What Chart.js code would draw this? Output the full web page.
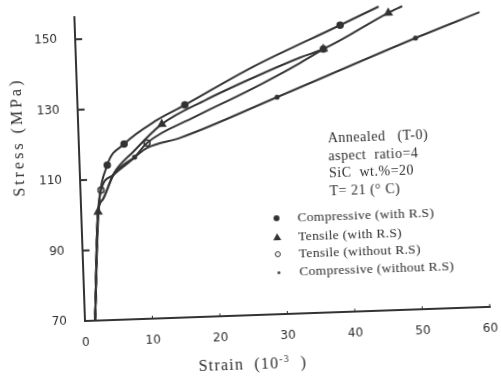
<!DOCTYPE html>
<html>
<head>
<meta charset="utf-8">
<script src="https://cdn.jsdelivr.net/npm/chart.js@4"></script>
<style>
  html, body { margin: 0; padding: 0; background: #fff; overflow: hidden; }
  /* the scanned figure sits about 2 degrees off square */
  #wrap { position: relative; width: 501px; height: 376px; background: #fff; transform: rotate(-2deg); transform-origin: 85px 321px; }
  #chart { position: absolute; left: 0; top: 0; }
  .txt { position: absolute; font-family: "Liberation Serif", serif; color: #2e2e2e; white-space: pre; }
  .note { font-size: 14px; letter-spacing: 0.5px; line-height: 17.7px; }
  .leg { font-size: 13.5px; letter-spacing: 0.3px; line-height: 16px; }
  .mk { position: absolute; }
</style>
</head>
<body>
<div id="wrap">
  <canvas id="chart" width="501" height="376"></canvas>
  <div class="txt" style="font-size:16px;letter-spacing:3px;left:-41px;top:125px;transform:rotate(-90deg);width:130px;text-align:center;line-height:20px;">Stress (MPa)</div>
  <div class="txt" style="font-size:16px;letter-spacing:1.2px;left:197px;top:356px;line-height:20px;">Strain  (10<sup style="font-size:10px">-3</sup>  )</div>
  <div class="txt note" style="left:334px;top:138px;">Annealed   (T-0)
aspect  ratio=4
SiC  wt.%=20
T= 21 (° C)</div>
  <div class="txt leg" style="left:301px;top:217px;">Compressive (with R.S)</div>
  <div class="txt leg" style="left:301px;top:236px;">Tensile (with R.S)</div>
  <div class="txt leg" style="left:301px;top:253px;">Tensile (without R.S)</div>
  <div class="txt leg" style="left:301px;top:271px;">Compressive (without R.S)</div>
  <div class="mk" style="left:277px;top:222px;width:6px;height:6px;border-radius:50%;background:#333;"></div>
  <div class="mk" style="left:276px;top:240px;width:0;height:0;border-left:4px solid transparent;border-right:4px solid transparent;border-bottom:7px solid #333;"></div>
  <div class="mk" style="left:277px;top:258px;width:4px;height:4px;border-radius:50%;border:1.5px solid #333;"></div>
  <div class="mk" style="left:279px;top:278px;width:3px;height:3px;border-radius:50%;background:#444;"></div>
</div>
<script>
const xTicks = [0, 10, 20, 30, 40, 50, 60];
const yTicks = [70, 90, 110, 130, 150];

// [strain (10^-3), stress (MPa)]
const compWithRS = [[1.5, 70], [2.6, 101.5], [4.1, 114.0], [6.7, 119.8], [11.7, 126.3], [15.9, 130.3], [25.8, 140.1], [39.3, 151.4], [45.1, 156.3]];
const compWithRSMarks = [[4.1, 114.0], [6.7, 119.8], [15.9, 130.3], [39.3, 151.4]];

const tensWithRS = [[1.5, 70], [2.5, 100.8], [3.3, 104.4], [5.0, 111.5], [8.0, 117.5], [12.4, 125.1], [19.0, 131.5], [25.7, 137.0], [33.2, 142.6], [36.7, 144.8], [46.5, 154.4], [48.6, 156.2]];
const tensWithRSMarks = [[2.5, 100.8], [12.4, 125.1], [36.7, 144.8], [46.5, 154.4]];

const tensNoRS = [[1.5, 70], [2.5, 100.8], [3.05, 107.0], [5.0, 111.2], [8.2, 116.0], [10.1, 119.9], [17.3, 126.8], [25.6, 133.9], [33.2, 141.1], [36.7, 144.8]];
const tensNoRSMarks = [[3.05, 107.0], [10.1, 119.9], [36.7, 144.8]];

const compNoRS = [[1.5, 70], [2.5, 100.8], [3.3, 104.4], [5.0, 111.2], [8.2, 116.0], [10.1, 118.5], [15.0, 121.0], [29.6, 131.6], [50.4, 147.0], [60.0, 153.7]];
const compNoRSMarks = [[8.2, 116.0], [29.6, 131.6], [50.4, 147.0]];

const ink = '#333333';
const pts = arr => arr.map(([x, y]) => ({ x, y }));

function lineSet(arr) {
  return {
    data: pts(arr),
    showLine: true,
    borderColor: ink,
    borderWidth: 2,
    pointRadius: 0,
    cubicInterpolationMode: 'monotone',
    clip: false,
  };
}

function markSet(arr, style, radius, fill) {
  return {
    data: pts(arr),
    showLine: false,
    pointStyle: style,
    pointRadius: radius,
    backgroundColor: fill,
    borderColor: ink,
    borderWidth: 1.5,
    clip: false,
  };
}

// tick marks point inward on this figure
const innerTicks = {
  id: 'innerTicks',
  afterDraw(chart) {
    const { ctx, chartArea: a, scales: { x, y } } = chart;
    ctx.save();
    ctx.strokeStyle = ink;
    ctx.lineWidth = 2;
    yTicks.slice(1).forEach(v => {
      const py = y.getPixelForValue(v);
      ctx.beginPath();
      ctx.moveTo(a.left, py);
      ctx.lineTo(a.left + 7, py);
      ctx.stroke();
    });
    ctx.lineWidth = 1;
    xTicks.slice(1).forEach(v => {
      const px = x.getPixelForValue(v);
      ctx.beginPath();
      ctx.moveTo(px, a.bottom);
      ctx.lineTo(px, a.bottom - 3);
      ctx.stroke();
    });
    ctx.restore();
  }
};

function noPad(s) {
  s.paddingTop = 0;
  s.paddingBottom = 0;
  s.paddingLeft = 0;
  s.paddingRight = 0;
}

new Chart(document.getElementById('chart'), {
  type: 'scatter',
  data: {
    datasets: [
      lineSet(compWithRS),
      lineSet(tensWithRS),
      lineSet(tensNoRS),
      lineSet(compNoRS),
      markSet(compWithRSMarks, 'circle', 3, ink),
      markSet(tensWithRSMarks, 'triangle', 4, ink),
      markSet(tensNoRSMarks, 'circle', 3, '#ffffff'),
      markSet(compNoRSMarks, 'circle', 1.8, ink),
    ]
  },
  plugins: [innerTicks],
  options: {
    responsive: false,
    animation: false,
    layout: { padding: { left: 0, top: 17, right: 11, bottom: 0 } },
    plugins: {
      legend: { display: false },
      tooltip: { enabled: false },
    },
    scales: {
      x: {
        type: 'linear',
        min: 0,
        max: 60,
        afterFit: s => { s.height = 55; noPad(s); },
        afterBuildTicks: s => { s.ticks = xTicks.map(v => ({ value: v })); },
        grid: { display: false },
        border: { color: ink, width: 2 },
        ticks: { color: '#2e2e2e', padding: 7, font: { family: 'DejaVu Sans', size: 12 } },
      },
      y: {
        type: 'linear',
        min: 70,
        max: 156.3,
        afterFit: s => { s.width = 85; noPad(s); },
        afterBuildTicks: s => { s.ticks = yTicks.map(v => ({ value: v })); },
        grid: { display: false },
        border: { color: ink, width: 2 },
        ticks: { color: '#2e2e2e', padding: 10, font: { family: 'DejaVu Sans', size: 12 } },
      }
    }
  }
});
</script>
</body>
</html>
